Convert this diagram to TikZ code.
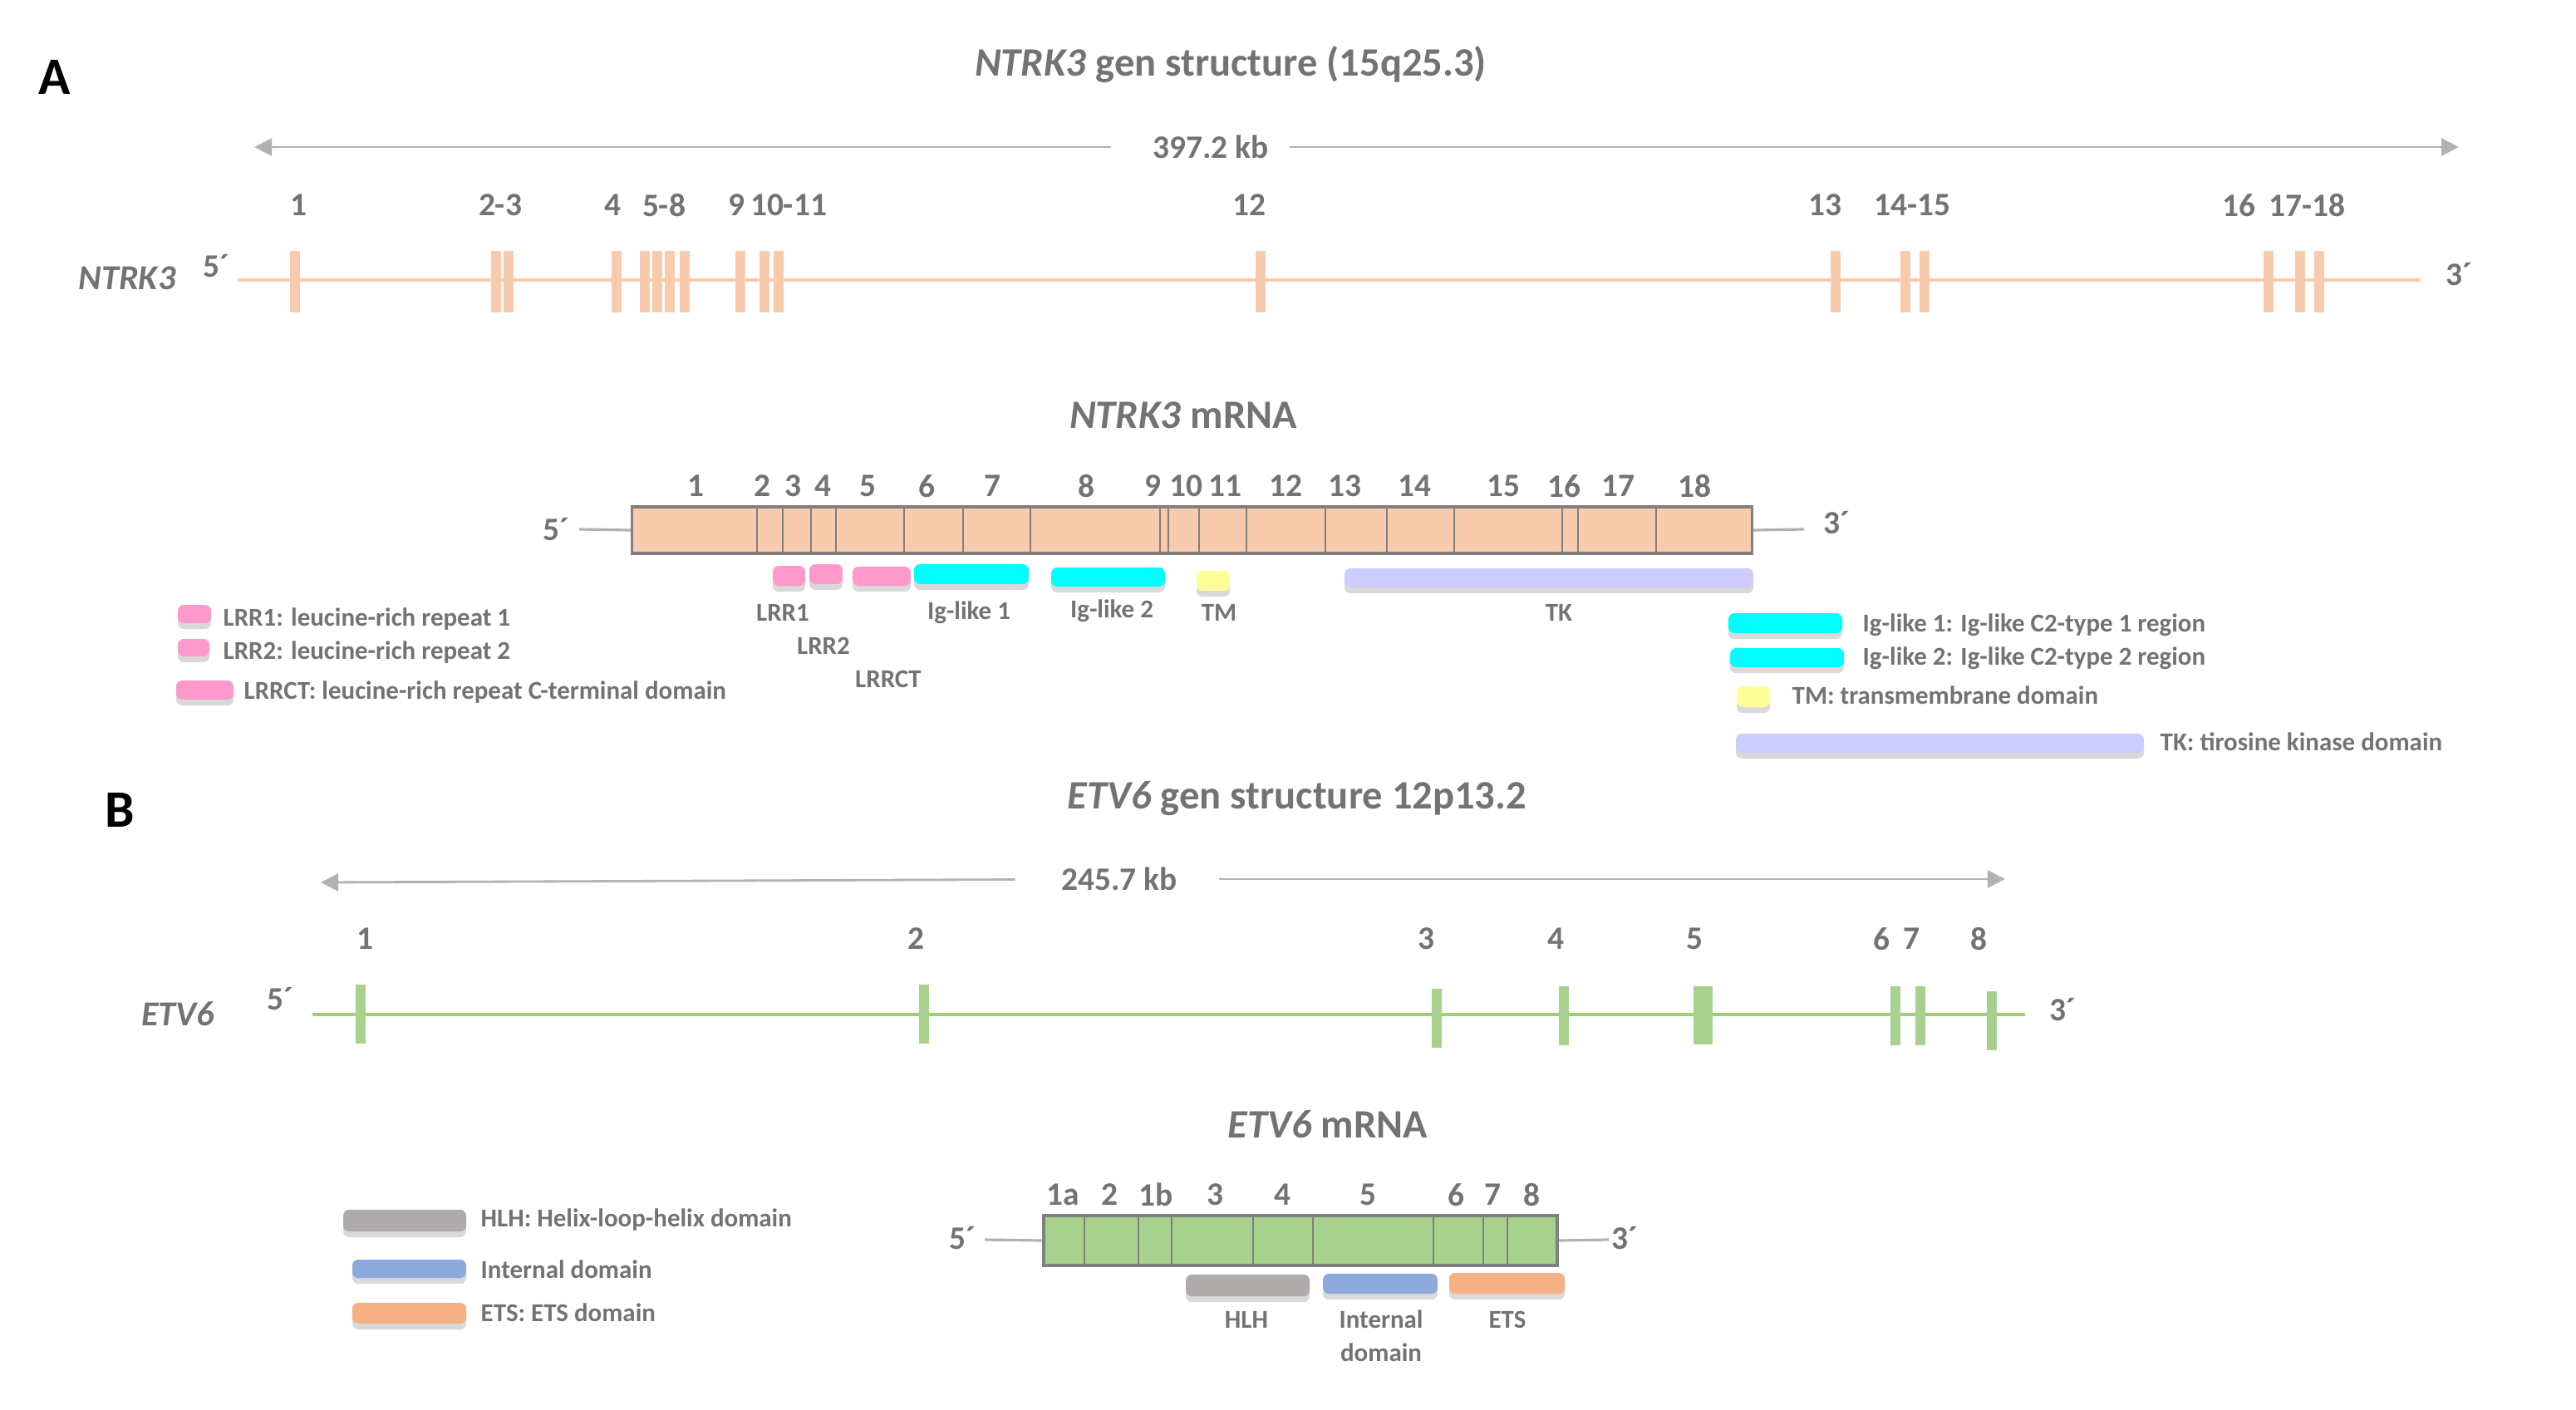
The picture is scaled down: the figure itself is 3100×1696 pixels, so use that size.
\documentclass[tikz,border=0pt]{standalone}
\usepackage{fontspec}
\setmainfont{Carlito}
\usetikzlibrary{arrows.meta,shadows}
\definecolor{txtgray}{RGB}{115,115,115}
\definecolor{ntrkpeach}{RGB}{248,203,173}
\definecolor{etvgreen}{RGB}{169,209,142}
\definecolor{etvline}{RGB}{155,210,110}
\definecolor{lrrpink}{RGB}{255,153,204}
\definecolor{igcyan}{RGB}{0,255,255}
\definecolor{tmyellow}{RGB}{255,255,153}
\definecolor{tklav}{RGB}{204,204,255}
\definecolor{hlhgray}{RGB}{175,171,171}
\definecolor{intblue}{RGB}{142,169,219}
\definecolor{etsorange}{RGB}{244,177,131}
\begin{document}
\begin{tikzpicture}[x=0.01cm,y=-0.01cm,
  every node/.style={text=txtgray,inner sep=0pt},
  panel/.style={text=black,font=\fontsize{18}{21}\selectfont\bfseries},
  head/.style={font=\fontsize{13.8}{16}\selectfont\bfseries},
  num/.style={font=\fontsize{11.2}{13}\selectfont\bfseries},
  gname/.style={font=\fontsize{12}{14}\selectfont\bfseries\itshape},
  small/.style={font=\fontsize{8.8}{10.5}\selectfont\bfseries},
  kbarrow/.style={draw=gray!60,line width=0.8pt,-{Triangle[length=6pt,width=6pt]}},
  endline/.style={draw=gray!60,line width=0.9pt},
  mrnabox/.style={draw=gray,line width=1pt},
  dom/.style={rounded corners=2pt,drop shadow={shadow xshift=0pt,shadow yshift=-2pt,opacity=0.3}}]
\useasboundingbox (0,0) rectangle (3100,1696);

% ---- A: NTRK3 gene
\node[panel] (pA) at (66,93) {A};
\node[head] (ntgtitle) at (1481,78) {\textit{NTRK3} gen structure (15q25.3)};
\node[num] (kbnt) at (1457,177) {397.2 kb};
\coordinate (kbntl) at (306,177);
\coordinate (kbntr) at (2959,177);
\draw[kbarrow,shorten <=0.5cm] (kbnt) -- (kbntl);
\draw[kbarrow,shorten <=0.25cm] (kbnt) -- (kbntr);
\foreach \x/\t in {359/1,602/2-3,737/4,799/5-8,886/9,949/10-11,1503/12,
  2196/13,2301/14-15,2694/16,2776/17-18}
  \node[num] at (\x,247) {\t};
\node[gname] (ntgname) at (153,335) {NTRK3};
\node[num] (ntg5lab) at (260,320) {5´};
\node[num] (ntg3lab) at (2959,330) {3´};
\coordinate (ntg5) at (286,337);
\coordinate (ntg3) at (2913,337);
\draw[ntrkpeach,line width=1.1pt] (ntg5) -- (ntg3);
\foreach \x in {355,597,612,742,776,791,806,824,891,920,937,1517,2209,2293,2316,2730,2768,2791}
  \fill[ntrkpeach] (\x-6,302) rectangle (\x+6,376);

% ---- A: NTRK3 mRNA
\node[head] (ntmtitle) at (1424,500) {\textit{NTRK3} mRNA};
\node[mrnabox,fill=ntrkpeach,minimum width=13.47cm,minimum height=0.56cm] (ntmrna) at (1434.5,638) {};
\foreach \x in {911,942,976,1006,1088,1159,1240,1396,1406,1443,1500,1595,1669,1750,1880,1899,1993}
  \draw[gray,line width=0.5pt] (\x,610) -- (\x,666);
\foreach \x/\t in {837/1,917/2,954/3,990/4,1044/5,1115/6,1194/7,1307/8,1387/9,1427/10,
  1474/11,1547/12,1618/13,1702/14,1809/15,1882/16,1947/17,2039/18}
  \node[num] at (\x,585) {\t};
\node[num] (ntm5lab) at (669,637) {5´};
\node[num] (ntm3lab) at (2210,629) {3´};
\coordinate (ntm5) at (697,637);
\coordinate (ntm3) at (2171,637);
\draw[endline] (ntmrna.west) -- (ntm5);
\draw[endline] (ntmrna.east) -- (ntm3);
% domains
\foreach \a/\b/\c/\d/\col in {930/681/969/705/lrrpink,974/679/1014/703/lrrpink,
  1026/682/1096/705/lrrpink,1100/679/1238/703/igcyan,1265/683/1402/706/igcyan,
  1440/687/1480/711/tmyellow,1618/684/2110/707/tklav}
  \path[dom,fill=\col] (\a,\b) rectangle (\c,\d);
\foreach \x/\y/\t in {942/737/LRR1,991/777/LRR2,1069/817/LRRCT,1166/737/Ig-like 1,
  1338/735/Ig-like 2,1467/737/TM,1876/737/TK}
  \node[small] at (\x,\y) {\t};
% legend
\foreach \a/\b/\c/\d/\col in {214/728/254/750/lrrpink,214/769/252/790/lrrpink,
  212/819/281/842/lrrpink,2080/738/2217/762/igcyan,2082/780/2219/803/igcyan,
  2090/826/2130/851/tmyellow,2089/883/2580/906/tklav}
  \path[dom,fill=\col] (\a,\b) rectangle (\c,\d);
\foreach \x/\y/\t in {268/745/LRR1: leucine-rich repeat 1,268/785/LRR2: leucine-rich repeat 2,
  293/833/LRRCT: leucine-rich repeat C-terminal domain,
  2241/752/Ig-like 1: Ig-like C2-type 1 region,2241/792/Ig-like 2: Ig-like C2-type 2 region,
  2156/837/TM: transmembrane domain,2599/893/TK: tirosine kinase domain}
  \node[small,anchor=west] at (\x,\y) {\t};

% ---- B: ETV6 gene
\node[panel] (pB) at (144,975) {B};
\node[head] (etgtitle) at (1561,961) {\textit{ETV6} gen structure 12p13.2};
\node[num] (kbet) at (1347,1058) {245.7 kb};
\coordinate (kbetl) at (386,1062);
\coordinate (kbetr) at (2413,1058);
\draw[kbarrow,shorten <=0.55cm] (kbet) -- (kbetl);
\draw[kbarrow,shorten <=0.5cm] (kbet) -- (kbetr);
\foreach \x/\t in {439/1,1102/2,1716/3,1872/4,2039/5,2264/6,2300/7,2381/8}
  \node[num] at (\x,1130) {\t};
\node[gname] (etgname) at (214,1220) {ETV6};
\node[num] (etg5lab) at (337,1202) {5´};
\node[num] (etg3lab) at (2482,1215) {3´};
\coordinate (etg5) at (376,1221);
\coordinate (etg3) at (2437,1221);
\draw[etvline,line width=1pt] (etg5) -- (etg3);
\foreach \x/\y in {434/1185,1112/1185,1729/1190,1882/1187,2281/1187,2311/1187,2397/1193}
  \fill[etvgreen] (\x-6,\y) rectangle (\x+6,\y+71);
\fill[etvgreen] (2038,1187) rectangle (2061,1257);

% ---- B: ETV6 mRNA
\node[head] (etmtitle) at (1598,1353) {\textit{ETV6} mRNA};
\node[mrnabox,fill=etvgreen,minimum width=6.18cm,minimum height=0.6cm] (etmrna) at (1565,1493) {};
\foreach \x in {1305,1370,1410,1508,1580,1725,1785,1814}
  \draw[gray,line width=0.5pt] (\x,1463) -- (\x,1523);
\foreach \x/\t in {1279/1a,1335/2,1391/1b,1462/3,1543/4,1646/5,1752/6,1796/7,1843/8}
  \node[num] at (\x,1438) {\t};
\node[num] (etm5lab) at (1158,1490) {5´};
\node[num] (etm3lab) at (1955,1490) {3´};
\coordinate (etm5) at (1185,1492);
\coordinate (etm3) at (1936,1492);
\draw[endline] (etmrna.west) -- (etm5);
\draw[endline] (etmrna.east) -- (etm3);
\foreach \a/\b/\c/\d/\col in {1427/1534/1576/1560/hlhgray,1592/1533/1730/1557/intblue,
  1744/1532/1883/1557/etsorange,413/1456/561/1482/hlhgray,424/1516/561/1538/intblue,
  424/1568/561/1593/etsorange}
  \path[dom,fill=\col] (\a,\b) rectangle (\c,\d);
\node[small] (hlhlab) at (1500,1588) {HLH};
\node[small,align=center,font=\fontsize{8.8}{11.5}\selectfont\bfseries] (intlab) at (1662,1608) {Internal\\domain};
\node[small] (etslab) at (1814,1588) {ETS};
\foreach \y/\t in {1468/HLH: Helix-loop-helix domain,1528/Internal domain,1580/ETS: ETS domain}
  \node[small,anchor=west] at (578,\y) {\t};
\end{tikzpicture}
\end{document}
